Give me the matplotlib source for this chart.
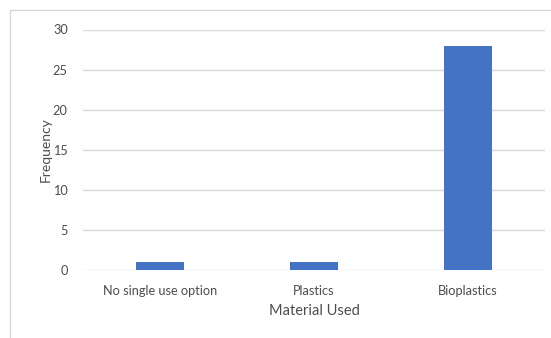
import matplotlib.pyplot as plt
from matplotlib.patches import Rectangle

materials = ["No single use option", "Plastics", "Bioplastics"]
frequency = [1, 1, 28]
y_ticks = [0, 5, 10, 15, 20, 25, 30]

plt.rcParams['font.family'] = ['Lato', 'DejaVu Sans']

fig = plt.figure(figsize=(5.51, 3.38), dpi=100)
fig.patch.set_facecolor("white")

# chart frame (left and top edges visible, rest runs off the image)
fig.patches.append(Rectangle((10 / 551, -0.1), 1.2, 1 - 9.5 / 338 + 0.1,
                             transform=fig.transFigure, fill=False,
                             edgecolor="#d9d9d9", linewidth=1.0))

ax = fig.add_axes([83 / 551, 1 - 270 / 338, (545 - 83) / 551, (270 - 29.5) / 338])
x = range(len(materials))
ax.bar(x, frequency, width=0.31, color="#4472C4", zorder=3)

ax.set_xlim(-0.5, len(materials) - 0.5)
ax.set_ylim(0, 30)
ax.set_yticks(y_ticks)
ax.set_xticks(list(x))
ax.set_xticklabels(materials)
ax.grid(axis="y", color="#d9d9d9", linewidth=1.0, zorder=0)
ax.tick_params(length=0, labelsize=9.2, labelcolor="#4d4d4d")
ax.tick_params(axis="y", pad=11)
ax.tick_params(axis="x", pad=11)
for side in ["left", "right", "top", "bottom"]:
    ax.spines[side].set_visible(False)

ax.set_xlabel("Material Used", fontsize=10.5, color="#4d4d4d", labelpad=5)
ax.set_ylabel("Frequency", fontsize=10, color="#4d4d4d", labelpad=1)

fig.savefig("out.png", dpi=100)
